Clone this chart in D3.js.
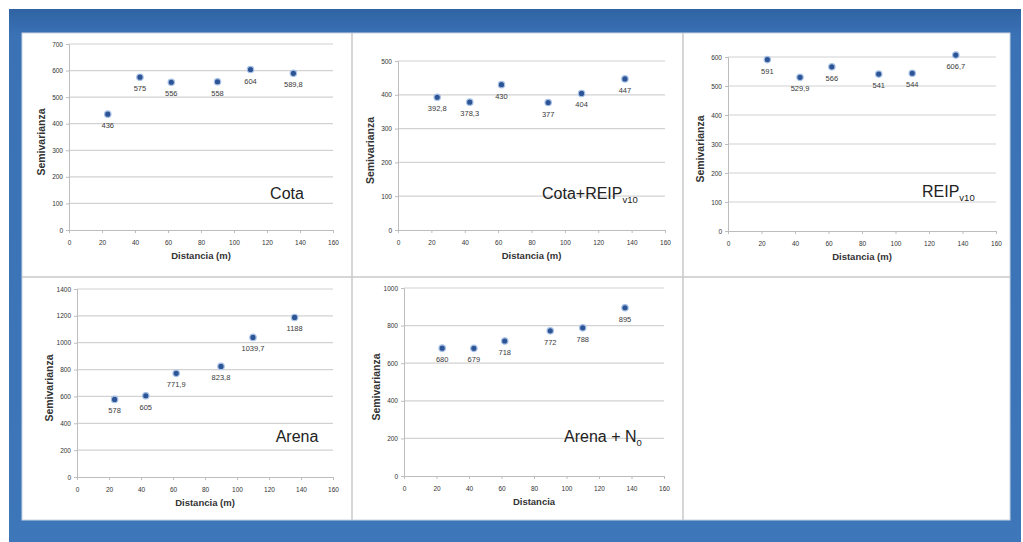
<!DOCTYPE html>
<html>
<head>
<meta charset="utf-8">
<script src="https://cdn.jsdelivr.net/npm/d3@7"></script>
<style>
  html, body { margin: 0; padding: 0; background: #ffffff; }
  svg { display: block; font-family: "Liberation Sans", Arial, sans-serif; }
</style>
</head>
<body>
<svg id="chart" width="1023" height="542"></svg>
<script>
// Distances of the lag classes (m)
const distancias = [23.5, 43, 62, 90, 110, 136];

// Semivariance per lag for each variable
const cotaValues      = [436, 575, 556, 558, 604, 589.8];
const cotaReipValues  = [392.8, 378.3, 430, 377, 404, 447];
const reipValues      = [591, 529.9, 566, 541, 544, 606.7];
const arenaValues     = [578, 605, 771.9, 823.8, 1039.7, 1188];
const arenaN0Values   = [680, 679, 718, 772, 788, 895];

// Axis tick values
const xTicks        = [0, 20, 40, 60, 80, 100, 120, 140, 160];
const cotaTicks     = [0, 100, 200, 300, 400, 500, 600, 700];
const cotaReipTicks = [0, 100, 200, 300, 400, 500];
const reipTicks     = [0, 100, 200, 300, 400, 500, 600];
const arenaTicks    = [0, 200, 400, 600, 800, 1000, 1200, 1400];
const arenaN0Ticks  = [0, 200, 400, 600, 800, 1000];

// Panel names (main text + subscript)
const panelNames = [
  ["Cota", ""],
  ["Cota+REIP", "v10"],
  ["REIP", "v10"],
  ["Arena", ""],
  ["Arena + N", "0"]
];
const xTitles = ["Distancia (m)", "Distancia (m)", "Distancia (m)", "Distancia (m)", "Distancia"];
const yTitle = "Semivarianza";

const seriesList = [cotaValues, cotaReipValues, reipValues, arenaValues, arenaN0Values];
const tickList = [cotaTicks, cotaReipTicks, reipTicks, arenaTicks, arenaN0Ticks];

// Plot rectangles and name placement for each panel
const layout = [
  { x0: 69,  x1: 333, yTop: 44,  yBot: 230, nameX: 287, nameY: 199, anchor: "middle" },
  { x0: 398, x1: 665, yTop: 61,  yBot: 230, nameX: 542, nameY: 199, anchor: "start" },
  { x0: 728, x1: 996, yTop: 57,  yBot: 231, nameX: 922, nameY: 197, anchor: "start" },
  { x0: 77,  x1: 333, yTop: 289, yBot: 477, nameX: 297, nameY: 442, anchor: "middle" },
  { x0: 404, x1: 664, yTop: 288, yBot: 476, nameX: 564, nameY: 442, anchor: "start" }
];

const svg = d3.select("#chart");

// Blue frame
const defs = svg.append("defs");
const grad = defs.append("linearGradient").attr("id", "frameGrad")
  .attr("x1", 0).attr("y1", 0).attr("x2", 0).attr("y2", 1);
grad.append("stop").attr("offset", "0%").attr("stop-color", "#2f63a3");
grad.append("stop").attr("offset", "5%").attr("stop-color", "#3b72b6");
grad.append("stop").attr("offset", "100%").attr("stop-color", "#3e76ba");
svg.append("rect").attr("x", 9).attr("y", 9).attr("width", 1012).attr("height", 533)
  .attr("fill", "url(#frameGrad)");

// White sheet holding the panels
svg.append("rect").attr("x", 22).attr("y", 33).attr("width", 988).attr("height", 487)
  .attr("fill", "#ffffff").attr("stroke", "#c9d3df").attr("stroke-width", 1);

// Panel separators
const sep = svg.append("g").attr("stroke", "#c8c8c8").attr("stroke-width", 1.5);
sep.append("line").attr("x1", 22).attr("x2", 1010).attr("y1", 277).attr("y2", 277);
sep.append("line").attr("x1", 352).attr("x2", 352).attr("y1", 33).attr("y2", 520);
sep.append("line").attr("x1", 683).attr("x2", 683).attr("y1", 33).attr("y2", 520);

seriesList.forEach((values, i) => {
  const L = layout[i];
  const ticks = tickList[i];
  const g = svg.append("g");

  const x = d3.scaleLinear().domain([0, 160]).range([L.x0, L.x1]);
  const y = d3.scaleLinear().domain([0, d3.max(ticks)]).range([L.yBot, L.yTop]);

  // Horizontal gridlines
  g.append("g").selectAll("line").data(ticks.filter(t => t > 0)).join("line")
    .attr("x1", L.x0).attr("x2", L.x1)
    .attr("y1", d => y(d)).attr("y2", d => y(d))
    .attr("stroke", "#d2d2d2").attr("stroke-width", 1.2);

  // Y axis
  const yAxis = g.append("g").attr("transform", `translate(${L.x0},0)`)
    .call(d3.axisLeft(y).tickValues(ticks).tickSize(3).tickPadding(3).tickFormat(d3.format("d")));
  yAxis.select(".domain").attr("stroke", "#bdbdbd");
  yAxis.selectAll(".tick line").attr("stroke", "#bdbdbd");
  yAxis.selectAll("text").attr("font-size", 6.5).attr("fill", "#333");

  // X axis
  const xAxis = g.append("g").attr("transform", `translate(0,${L.yBot})`)
    .call(d3.axisBottom(x).tickValues(xTicks).tickSize(3).tickPadding(7).tickFormat(d3.format("d")));
  xAxis.select(".domain").attr("stroke", "#bdbdbd");
  xAxis.selectAll(".tick line").attr("stroke", "#bdbdbd");
  xAxis.selectAll("text").attr("font-size", 6.5).attr("fill", "#333");

  // Axis titles
  g.append("text")
    .attr("x", (L.x0 + L.x1) / 2).attr("y", L.yBot + 29)
    .attr("text-anchor", "middle").attr("font-size", 9.5).attr("font-weight", "bold")
    .attr("fill", "#333").text(xTitles[i]);
  g.append("text")
    .attr("transform", `translate(${L.x0 - 24},${(L.yTop + L.yBot) / 2 + 5}) rotate(-90)`)
    .attr("text-anchor", "middle").attr("font-size", 10.5).attr("font-weight", "bold")
    .attr("fill", "#333").text(yTitle);

  // Points
  const pts = distancias.map((d, k) => ({ d, v: values[k] }));
  g.append("g").selectAll("circle").data(pts).join("circle")
    .attr("cx", p => x(p.d)).attr("cy", p => y(p.v)).attr("r", 3.2)
    .attr("fill", "#2d5596").attr("stroke", "#a9c2e6").attr("stroke-width", 1.2);

  // Value labels under each point
  const fmt = v => (Number.isInteger(v) ? String(v) : v.toFixed(1).replace(".", ","));
  g.append("g").selectAll("text").data(pts).join("text")
    .attr("x", p => x(p.d)).attr("y", p => y(p.v) + 14)
    .attr("text-anchor", "middle").attr("font-size", 7.5).attr("fill", "#3a3a3a")
    .text(p => fmt(p.v));

  // Panel name with optional subscript
  const [main, sub] = panelNames[i];
  const name = g.append("text")
    .attr("x", L.nameX).attr("y", L.nameY)
    .attr("text-anchor", L.anchor).attr("font-size", 16).attr("fill", "#222");
  name.append("tspan").text(main);
  if (sub) {
    name.append("tspan").attr("dy", 4).attr("font-size", 9.5).text(sub);
  }
});
</script>
</body>
</html>
